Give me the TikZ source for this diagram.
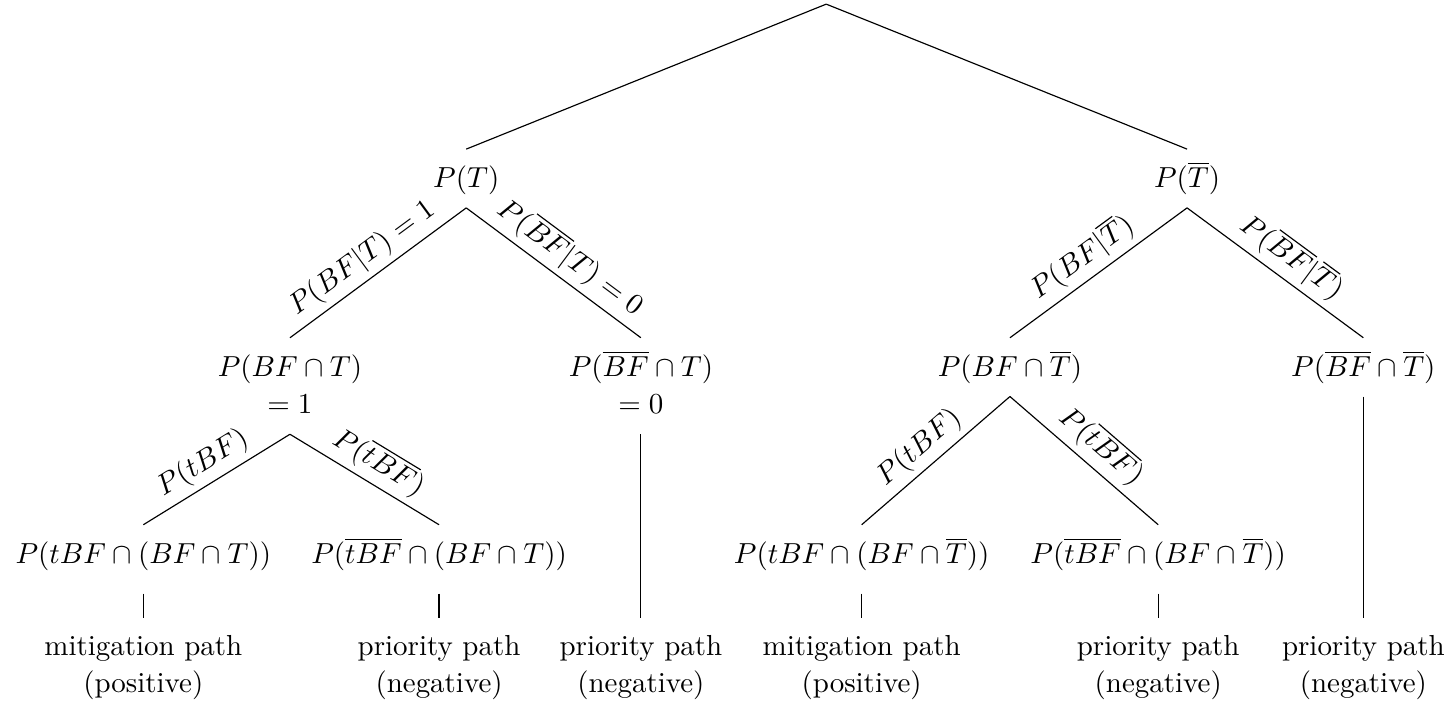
\documentclass[tikz,border=0pt]{standalone}
\usepackage{amsmath}

\begin{document}
\begin{tikzpicture}[
  prob/.style={anchor=north, inner sep=4.3pt, text height=8.8pt, text depth=2.5pt},
  probtwo/.style={anchor=north, inner sep=4.3pt, align=center},
  joint/.style={prob, text depth=6pt},
  outcome/.style={anchor=north, inner sep=4.3pt, align=center},
  branch/.style={line width=0.4pt, draw=black},
  lbl/.style={pos=0.52, above, sloped, inner sep=2pt}
]
\useasboundingbox (0,0) rectangle (17.59,-8.51);
\coordinate (root) at (10.03,-0.05);
% first split
\node[prob] (t) at (5.66,-1.81) {$P(T)$};
\node[prob] (tb) at (14.41,-1.81) {$P(\overline{T})$};
% second split
\node[probtwo] (bft) at (3.52,-4.10) {$P(BF\cap T)\vphantom{\overline{T}}$\\[1pt]$=1\vphantom{(}$};
\node[probtwo] (bfbt) at (7.78,-4.10) {$P(\overline{BF}\cap T)$\\[1pt]$=0\vphantom{(}$};
\node[prob] (bftb) at (12.26,-4.10) {$P(BF\cap\overline{T})$};
\node[prob] (bfbtb) at (16.55,-4.10) {$P(\overline{BF}\cap\overline{T})$};
% third split
\node[joint] (tbft) at (1.74,-6.37) {$P(tBF\cap(BF\cap T))$};
\node[joint] (tbfbt) at (5.33,-6.37) {$P(\overline{tBF}\cap(BF\cap T))$};
\node[joint] (tbftb) at (10.46,-6.37) {$P(tBF\cap(BF\cap\overline{T}))$};
\node[joint] (tbfbtb) at (14.06,-6.37) {$P(\overline{tBF}\cap(BF\cap\overline{T}))$};
% outcomes
\node[outcome] (o1) at (1.74,-7.50) {\strut mitigation path\\[1pt]\strut(positive)};
\node[outcome] (o2) at (5.33,-7.50) {\strut priority path\\[1pt]\strut(negative)};
\node[outcome] (o3) at (7.78,-7.50) {\strut priority path\\[1pt]\strut(negative)};
\node[outcome] (o4) at (10.46,-7.50) {\strut mitigation path\\[1pt]\strut(positive)};
\node[outcome] (o5) at (14.06,-7.50) {\strut priority path\\[1pt]\strut(negative)};
\node[outcome] (o6) at (16.55,-7.50) {\strut priority path\\[1pt]\strut(negative)};
% branches
\draw[branch] (root) -- (t.north);
\draw[branch] (root) -- (tb.north);
\draw[branch] (t.south) -- node[lbl] {$P(BF|T)=1$} (bft.north);
\draw[branch] (t.south) -- node[lbl] {$P(\overline{BF}|T)=0$} (bfbt.north);
\draw[branch] (tb.south) -- node[lbl] {$P(BF|\overline{T})$} (bftb.north);
\draw[branch] (tb.south) -- node[lbl] {$P(\overline{BF}|\overline{T})$} (bfbtb.north);
\draw[branch] (bft.south) -- node[lbl] {$P(tBF)$} (tbft.north);
\draw[branch] (bft.south) -- node[lbl] {$P(\overline{tBF})$} (tbfbt.north);
\draw[branch] (bftb.south) -- node[lbl] {$P(tBF)$} (tbftb.north);
\draw[branch] (bftb.south) -- node[lbl] {$P(\overline{tBF})$} (tbfbtb.north);
\draw[branch] (tbft.south) -- (o1.north);
\draw[branch] (tbfbt.south) -- (o2.north);
\draw[branch] (bfbt.south) -- (o3.north);
\draw[branch] (tbftb.south) -- (o4.north);
\draw[branch] (tbfbtb.south) -- (o5.north);
\draw[branch] (bfbtb.south) -- (o6.north);
\end{tikzpicture}
\end{document}
